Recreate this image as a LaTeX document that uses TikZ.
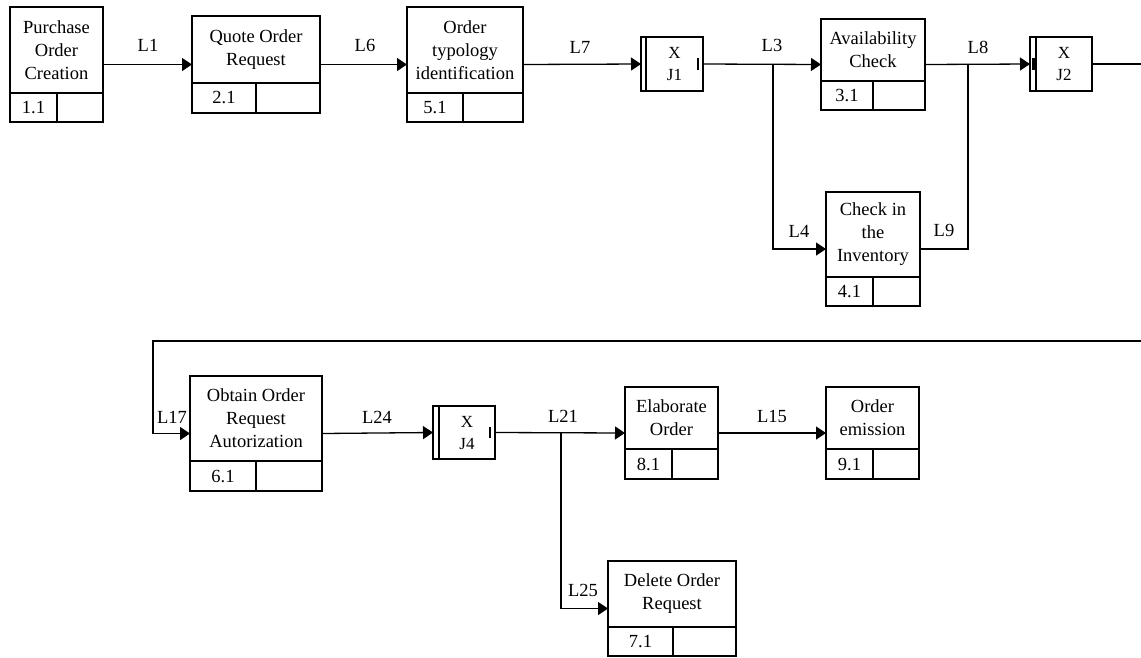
\documentclass[tikz,border=0pt]{standalone}
\usepackage{fontspec}
\setmainfont{Liberation Serif}
\usetikzlibrary{arrows.meta}
\newcommand\pbox[9]{%
  \node[boxshape, minimum width={(#4-#2)*1pt}, minimum height={(#5-#3)*1pt}] (#1) at ({(#2+#4)/2},{(#3+#5)/2}) {};
  \draw[lw] (#2,#6) -- (#4,#6);
  \draw[lw] (#7,#6) -- (#7,#5);
  \node[boxtxt] (#1t) at ({(#2+#4)/2},{(#3+#6)/2}) {#8};
  \node[boxtxt] (#1n) at ({(#2+#7)/2},{(#6+#5)/2}) {#9};
}
\newcommand\jbox[7]{%
  \node[boxshape, minimum width={(#4-#2)*1pt}, minimum height={(#5-#3)*1pt}] (#1) at ({(#2+#4)/2},{(#3+#5)/2}) {};
  \draw[lw] (#6,#3) -- (#6,#5);
  \node[jtxt] (#1x) at ({(#6+#4)/2},{#3+16}) {X};
  \node[jtxt] (#1j) at ({(#6+#4)/2},{#3+38}) {#7};
}
\begin{document}
\begin{tikzpicture}[x=1pt,y=-1pt,
  lw/.style={line width=1.3pt},
  boxshape/.style={draw, lw, inner sep=0pt, outer sep=0pt, rectangle},
  boxtxt/.style={font=\fontsize{18.5}{23}\selectfont, align=center, inner sep=0pt},
  jtxt/.style={font=\fontsize{17}{20}\selectfont, inner sep=0pt},
  lbl/.style={font=\fontsize{18.5}{23}\selectfont, inner sep=0pt},
  conn/.style={lw},
  arr/.style={lw, -{Triangle[length=10pt,width=13pt]}},
  tick/.style={line width=1.6pt}
]
\useasboundingbox (0,0) rectangle (1141,657);
\fill[white] (0,0) rectangle (1141,657);

% row 1
\pbox{b1}{10}{7}{103}{122}{93}{57}{Purchase\\Order\\Creation}{1.1}
\pbox{b2}{192}{16}{320}{113}{83}{256}{Quote Order\\Request}{2.1}
\pbox{b5}{407}{7}{523}{122}{93}{463}{Order\\typology\\identification}{5.1}
\jbox{j1}{641}{37}{703}{91}{646}{J1}
\draw[tick] (698,58) -- (698,70);
\pbox{b3}{821}{19}{925}{110}{81}{873}{Availability\\Check}{3.1}
\pbox{b4}{826}{192}{920}{306}{277}{873}{Check in\\the\\Inventory}{4.1}
\jbox{j2}{1030}{37}{1092}{91}{1036}{J2}
\draw[line width=2.2pt] (1033.5,58) -- (1033.5,70);

% row 2
\pbox{b6}{190}{376}{322}{491}{461}{256}{Obtain Order\\Request\\Autorization}{6.1}
\jbox{j4}{433}{406}{495}{459}{439}{J4}
\draw[tick] (490,427) -- (490,438);
\pbox{b8}{625}{387}{718}{479}{449}{672}{Elaborate\\Order}{8.1}
\pbox{b9}{826}{387}{919}{479}{449}{873}{Order\\emission}{9.1}
\pbox{b7}{608}{561}{736}{656}{627}{673}{Delete Order\\Request}{7.1}

% coordinates
\coordinate (c3) at (773,64);
\coordinate (c8) at (968,64);
\coordinate (e1) at (1141,64);
\coordinate (e2) at (1141,341);
\coordinate (c17) at (153,341);
\coordinate (c21) at (561,433);

% connectors
\draw[arr] (b1.east) -- (b2.west);
\draw[arr] (b2.east) -- (b5.west);
\draw[arr] (b5.east) -- (j1.west);
\draw[arr] (j1.east) -- (b3.west);
\draw[arr] (c3) |- (b4.west);
\draw[conn] (b4.east) -| (c8);
\draw[arr] (b3.east) -- (j2.west);
\draw[conn] (j2.east) -- (e1);
\draw[arr] (e2) -- (c17) |- (b6.west);
\draw[arr] (b6.east) -- (j4.west);
\draw[arr] (j4.east) -- (b8.west);
\draw[arr] (c21) |- (b7.west);
\draw[arr] (b8.east) -- (b9.west);

% labels
\node[lbl] (l1) at (148,45) {L1};
\node[lbl] (l6) at (365,45) {L6};
\node[lbl] (l7) at (580,47) {L7};
\node[lbl] (l3) at (772,45) {L3};
\node[lbl] (l8) at (978,47) {L8};
\node[lbl] (l4) at (799,231) {L4};
\node[lbl] (l9) at (944,230) {L9};
\node[lbl] (l17) at (172,417) {L17};
\node[lbl] (l24) at (377,417) {L24};
\node[lbl] (l21) at (563,416) {L21};
\node[lbl] (l15) at (772,416) {L15};
\node[lbl] (l25) at (583,590) {L25};
\end{tikzpicture}
\end{document}
